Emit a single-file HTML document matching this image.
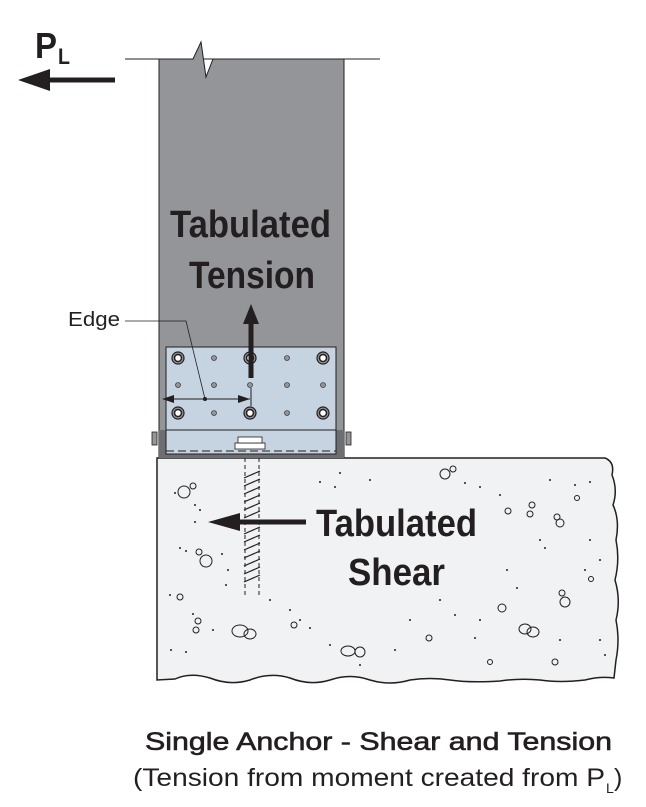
<!DOCTYPE html>
<html><head><meta charset="utf-8"><style>
html,body{margin:0;padding:0;background:#fff}
svg{display:block}
.t{font-family:"Liberation Sans Narrow","Liberation Sans",sans-serif;font-weight:bold;fill:#231f20}
</style></head><body>
<svg width="646" height="807" viewBox="0 0 646 807" xmlns="http://www.w3.org/2000/svg">
<!-- P_L -->
<text x="35" y="58" class="t" font-size="36" textLength="22" lengthAdjust="spacingAndGlyphs">P</text>
<text x="58" y="64" class="t" font-size="22" textLength="12" lengthAdjust="spacingAndGlyphs">L</text>
<line x1="40" y1="80" x2="115" y2="80" stroke="#231f20" stroke-width="5"/>
<polygon points="18,80 50,69 50,91" fill="#231f20"/>
<!-- post -->
<line x1="125" y1="59" x2="380" y2="59" stroke="#231f20" stroke-width="1"/>
<polygon points="159,59 193,59 201,42 206,77 213,59 344,59 344,458 159,458" fill="#939598" stroke="#231f20" stroke-width="1"/>
<!-- concrete -->
<path d="M157,458 L605,458 Q615,462 612,475 Q618,490 613,505 Q620,520 616,540 Q620,560 615,580 Q621,600 616,620 Q620,640 616,660 L614,678 Q600,676 585,680 Q560,683 540,680 Q520,678 500,681 Q470,683 450,680 Q430,677 410,680 Q390,686 370,680 Q350,673 330,680 Q310,686 290,678 Q270,672 250,680 Q230,686 210,678 Q190,672 175,679 L157,680 Z" fill="#f1f2f4" stroke="#231f20" stroke-width="1.5"/>
<!-- aggregate -->
<g fill="none" stroke="#231f20" stroke-width="1">
<ellipse cx="184" cy="492" rx="6" ry="6"/><circle cx="193" cy="486" r="3"/>
<ellipse cx="206" cy="561" rx="6" ry="6"/><circle cx="199" cy="552" r="3"/>
<circle cx="180" cy="597" r="3"/><circle cx="198" cy="621" r="3"/><circle cx="196" cy="630" r="3"/>
<ellipse cx="240" cy="631" rx="8" ry="6"/><ellipse cx="250" cy="634" rx="6" ry="5"/>
<circle cx="294" cy="625" r="3"/><ellipse cx="348" cy="651" rx="7" ry="5"/><circle cx="360" cy="652" r="5"/>
<ellipse cx="445" cy="474" rx="5" ry="5"/><circle cx="453" cy="469" r="3"/>
<circle cx="508" cy="511" r="3"/><circle cx="532" cy="505" r="3"/><circle cx="530" cy="514" r="3"/>
<circle cx="560" cy="523" r="4"/><circle cx="557" cy="517" r="3"/>
<circle cx="565" cy="602" r="5"/><circle cx="562" cy="593" r="3"/>
<ellipse cx="525" cy="629" rx="6" ry="5"/><ellipse cx="533" cy="632" rx="6" ry="5"/>
<circle cx="502" cy="608" r="4"/><circle cx="555" cy="662" r="3"/><circle cx="490" cy="662" r="2.5"/>
<circle cx="429" cy="638" r="3"/><circle cx="577" cy="498" r="2.5"/><circle cx="591" cy="579" r="2.5"/>
</g>
<g fill="#231f20">
<circle cx="175" cy="493" r="1"/><circle cx="195" cy="505" r="1"/><circle cx="200" cy="510" r="1"/><circle cx="195" cy="522" r="1"/>
<circle cx="180" cy="548" r="1"/><circle cx="186" cy="551" r="1"/><circle cx="222" cy="554" r="1"/><circle cx="228" cy="570" r="1"/><circle cx="226" cy="585" r="1"/>
<circle cx="170" cy="595" r="1"/><circle cx="193" cy="614" r="1"/><circle cx="213" cy="630" r="1"/><circle cx="171" cy="650" r="1"/><circle cx="186" cy="652" r="1"/>
<circle cx="270" cy="600" r="1"/><circle cx="290" cy="610" r="1"/><circle cx="300" cy="620" r="1"/><circle cx="310" cy="628" r="1"/><circle cx="330" cy="645" r="1"/><circle cx="360" cy="665" r="1"/>
<circle cx="320" cy="482" r="1"/><circle cx="335" cy="487" r="1"/><circle cx="340" cy="473" r="1"/><circle cx="370" cy="480" r="1"/>
<circle cx="465" cy="483" r="1"/><circle cx="480" cy="487" r="1"/><circle cx="500" cy="495" r="1"/><circle cx="550" cy="480" r="1"/><circle cx="575" cy="485" r="1"/><circle cx="590" cy="482" r="1"/>
<circle cx="540" cy="540" r="1"/><circle cx="545" cy="548" r="1"/><circle cx="590" cy="540" r="1"/><circle cx="600" cy="560" r="1"/><circle cx="585" cy="570" r="1"/>
<circle cx="507" cy="570" r="1"/><circle cx="517" cy="588" r="1"/><circle cx="480" cy="620" r="1"/><circle cx="475" cy="638" r="1"/><circle cx="600" cy="640" r="1"/><circle cx="605" cy="655" r="1"/>
<circle cx="560" cy="640" r="1"/><circle cx="410" cy="620" r="1"/><circle cx="395" cy="650" r="1"/><circle cx="440" cy="600" r="1"/><circle cx="455" cy="615" r="1"/>
</g>
<!-- anchor -->
<g stroke="#231f20" stroke-width="1" fill="none" stroke-dasharray="4,3">
<line x1="245" y1="458" x2="245" y2="597"/><line x1="259" y1="458" x2="259" y2="597"/>
</g>
<g stroke="#231f20" stroke-width="1.2">
<line x1="244" y1="478" x2="260" y2="471"/><line x1="244" y1="486" x2="260" y2="479"/><line x1="244" y1="494" x2="260" y2="487"/><line x1="244" y1="502" x2="260" y2="495"/><line x1="244" y1="510" x2="260" y2="503"/><line x1="244" y1="518" x2="260" y2="511"/><line x1="244" y1="534" x2="260" y2="527"/><line x1="244" y1="542" x2="260" y2="535"/><line x1="244" y1="550" x2="260" y2="543"/><line x1="244" y1="558" x2="260" y2="551"/><line x1="244" y1="566" x2="260" y2="559"/><line x1="244" y1="574" x2="260" y2="567"/><line x1="244" y1="582" x2="260" y2="575"/>
</g>
<!-- plate -->
<rect x="159" y="430" width="185" height="28" fill="#6d6e71"/>
<rect x="166" y="347" width="170" height="107" fill="#c6d3e0" stroke="#231f20" stroke-width="1"/>
<line x1="166" y1="430" x2="336" y2="430" stroke="#231f20" stroke-width="1"/>
<line x1="166" y1="451" x2="336" y2="451" stroke="#231f20" stroke-width="1" stroke-dasharray="8,4"/>
<rect x="152" y="432" width="5" height="13" fill="#939598" stroke="#231f20" stroke-width="0.8"/>
<rect x="346" y="432" width="5" height="13" fill="#939598" stroke="#231f20" stroke-width="0.8"/>
<rect x="235" y="443" width="30" height="6" fill="#fff" stroke="#231f20" stroke-width="0.8"/>
<rect x="238" y="437" width="24" height="6" fill="#fff" stroke="#231f20" stroke-width="0.8"/>
<g fill="#939598" stroke="#231f20" stroke-width="1.2">
<circle cx="178" cy="358" r="6"/><circle cx="250" cy="358" r="6"/><circle cx="323" cy="358" r="6"/>
<circle cx="178" cy="413" r="6"/><circle cx="250" cy="413" r="6"/><circle cx="323" cy="413" r="6"/>
</g>
<g fill="#fff" stroke="#231f20" stroke-width="1.5">
<circle cx="178" cy="358" r="3.5"/><circle cx="250" cy="358" r="3.5"/><circle cx="323" cy="358" r="3.5"/>
<circle cx="178" cy="413" r="3.5"/><circle cx="250" cy="413" r="3.5"/><circle cx="323" cy="413" r="3.5"/>
</g>
<g fill="#939598" stroke="#231f20" stroke-width="0.6">
<circle cx="214" cy="358" r="2.5"/><circle cx="287" cy="358" r="2.5"/><circle cx="214" cy="413" r="2.5"/><circle cx="287" cy="413" r="2.5"/>
<circle cx="178" cy="385" r="2.5"/><circle cx="214" cy="385" r="2.5"/><circle cx="250" cy="385" r="2.5"/><circle cx="287" cy="385" r="2.5"/><circle cx="323" cy="385" r="2.5"/>
</g>
<!-- edge dimension -->
<line x1="170" y1="399" x2="250" y2="399" stroke="#231f20" stroke-width="1"/>
<polygon points="162,399 174,395 174,403" fill="#231f20"/>
<polygon points="250,399 238,395 238,403" fill="#231f20"/>
<line x1="251" y1="388" x2="251" y2="406" stroke="#231f20" stroke-width="1"/>
<circle cx="205" cy="399" r="2" fill="#231f20"/>
<polyline points="125,321 186,321 205,399" fill="none" stroke="#231f20" stroke-width="0.8"/>
<text x="68" y="326" font-family="Liberation Sans, sans-serif" font-size="20" fill="#231f20" textLength="52" lengthAdjust="spacingAndGlyphs">Edge</text>
<!-- tension arrow -->
<line x1="251" y1="322" x2="251" y2="378" stroke="#231f20" stroke-width="5"/>
<polygon points="251,304 243,324 259,324" fill="#231f20"/>
<text x="170" y="237" class="t" font-size="38" textLength="161" lengthAdjust="spacingAndGlyphs">Tabulated</text>
<text x="189" y="288" class="t" font-size="38" textLength="126" lengthAdjust="spacingAndGlyphs">Tension</text>
<!-- shear arrow -->
<line x1="225" y1="522" x2="306" y2="522" stroke="#231f20" stroke-width="5"/>
<polygon points="208,522 240,513 240,531" fill="#231f20"/>
<text x="316" y="536" class="t" font-size="38" textLength="161" lengthAdjust="spacingAndGlyphs">Tabulated</text>
<text x="348" y="585" class="t" font-size="38" textLength="97" lengthAdjust="spacingAndGlyphs">Shear</text>
<!-- caption -->
<text x="145" y="750" font-family="Liberation Sans, sans-serif" font-size="25" fill="#231f20" stroke="#231f20" stroke-width="0.6" textLength="467" lengthAdjust="spacingAndGlyphs">Single Anchor - Shear and Tension</text>
<text x="133" y="786" font-family="Liberation Sans, sans-serif" font-size="25" fill="#231f20" textLength="472" lengthAdjust="spacingAndGlyphs">(Tension from moment created from P</text>
<text x="606" y="793" font-family="Liberation Sans, sans-serif" font-size="14" fill="#231f20">L</text>
<text x="614" y="786" font-family="Liberation Sans, sans-serif" font-size="25" fill="#231f20">)</text>
</svg>
</body></html>
